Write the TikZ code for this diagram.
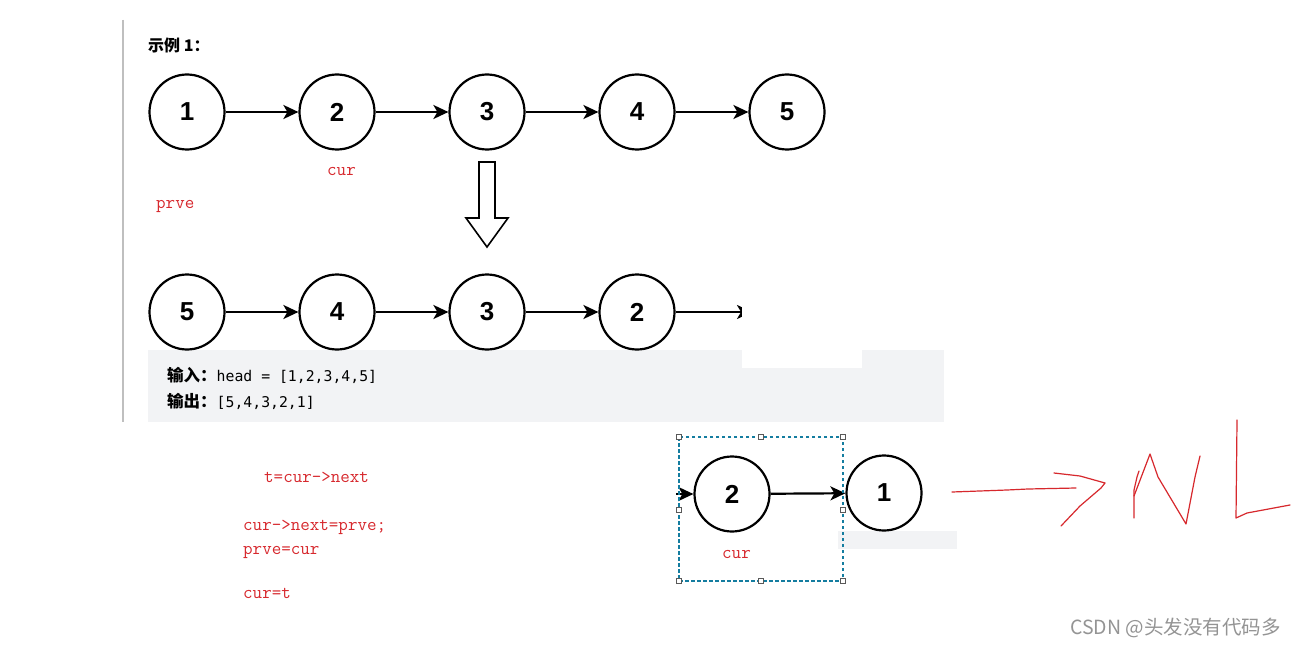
\documentclass[tikz,border=0pt]{standalone}
\usepackage{fontspec}
\setmainfont{Liberation Sans}
\newfontfamily\cjk{Noto Sans CJK SC}
\newfontfamily\codemono{DejaVu Sans Mono}
\usetikzlibrary{arrows.meta}
\definecolor{redtxt}{RGB}{215,40,45}
\definecolor{boxgray}{RGB}{242,243,245}
\definecolor{selteal}{RGB}{20,125,160}
\tikzset{
  lnode/.style={draw, circle, line width=2.2pt, minimum size=75pt, inner sep=0pt,
    font=\fontsize{26}{26}\selectfont\bfseries},
  link/.style={line width=2.2pt, -{Stealth[length=15pt,width=14pt,inset=4pt]}},
  code/.style={text=redtxt, font=\fontsize{18.5}{20}\selectfont\ttfamily, inner sep=0pt, anchor=west},
  handle/.style={draw=black!65, fill=white, line width=0.8pt, minimum size=5pt, inner sep=0pt},
  scribble/.style={draw=redtxt, line width=1.2pt, line join=round, line cap=round},
}
\begin{document}
\begin{tikzpicture}[x=1pt,y=-1pt]
\useasboundingbox (0,0) rectangle (1297,647);
\fill[white] (0,0) rectangle (1297,647);
% left rule
\draw[black!25, line width=1.5pt] (123,20) -- (123,422);
% title
\node[anchor=west, inner sep=0pt, font=\cjk\fontsize{16}{18}\selectfont\bfseries] (title) at (148,45) {示例 1：};
% gray box
\fill[boxgray] (148,350) rectangle (944,422);
% top row
\foreach \i/\x in {1/187,2/337,3/487,4/637,5/787}{
  \node[lnode] (t\i) at (\x,112) {\i};
}
\foreach \a/\b in {1/2,2/3,3/4,4/5}{ \draw[link] (t\a) -- (t\b); }
\node[code] (cur1) at (327,171) {cur};
\node[code] (prve1) at (156,206) {prve};
% hollow arrow
\draw[line width=1.6pt, line join=miter] (479,162) -- (495,162) -- (495,218) -- (508,218) -- (487,247) -- (466,218) -- (479,218) -- cycle;
% bottom row
\foreach \i/\v/\x in {1/5/187,2/4/337,3/3/487,4/2/637}{
  \node[lnode] (b\i) at (\x,312) {\v};
}
\foreach \a/\b in {1/2,2/3,3/4}{ \draw[link] (b\a) -- (b\b); }
\coordinate (bend) at (752,312);
\draw[link] (b4) -- (bend);
\fill[white] (742,285) rectangle (862,368);
% input/output text
\node[anchor=west, inner sep=0pt] (in) at (167,375)
  {{\cjk\fontsize{16.5}{18}\selectfont\bfseries 输入：}{\codemono\fontsize{14.8}{16}\selectfont head = [1,2,3,4,5]}};
\node[anchor=west, inner sep=0pt] (out) at (167,401)
  {{\cjk\fontsize{16.5}{18}\selectfont\bfseries 输出：}{\codemono\fontsize{14.8}{16}\selectfont [5,4,3,2,1]}};
% red code
\node[code] (c1) at (264,477) {t=cur->next};
\node[code] (c2) at (243,527) {cur->next=prve;};
\node[code] (c3) at (243,552) {prve=cur};
\node[code] (c4) at (243,593) {cur=t};
% small gray rect
\fill[boxgray] (838,531) rectangle (957,549);
% selection example
\node[lnode] (s2) at (732,494) {2};
\node[lnode] (s1) at (884,493) {1};
\coordinate (sin) at (676,494);
\draw[link] (sin) -- (s2);
\draw[link] (s2) -- (s1);
\node[code] (cur2) at (722,554) {cur};
\draw[draw=selteal, line width=1.1pt, dash pattern=on 3.5pt off 2.5pt] (679,437) rectangle (843,581);
\foreach \p in {(679,437),(761,437),(843,437),(679,510),(843,510),(679,581),(761,581),(843,581)}{
  \node[handle] at \p {};
}
% scribbles
\draw[scribble] (952,492) -- (1007,490) -- (1028,489) -- (1076,488);
\draw[scribble] (1054,473) -- (1080,476) -- (1105,483) -- (1101,488) -- (1080,506) -- (1061,526);
\draw[scribble] (1134,518) -- (1134,490) -- (1137,477) -- (1139,471);
\draw[scribble] (1134,496) -- (1150,454) -- (1158,477) -- (1186,524) -- (1195,477) -- (1200,456);
\draw[scribble] (1237,420) -- (1236,518) -- (1247,513) -- (1290,505);
% watermark
\node[anchor=west, inner sep=0pt, text=black!42, font=\cjk\fontsize{19.5}{21}\selectfont] (wm) at (1070,628) {CSDN @头发没有代码多};
\end{tikzpicture}
\end{document}
